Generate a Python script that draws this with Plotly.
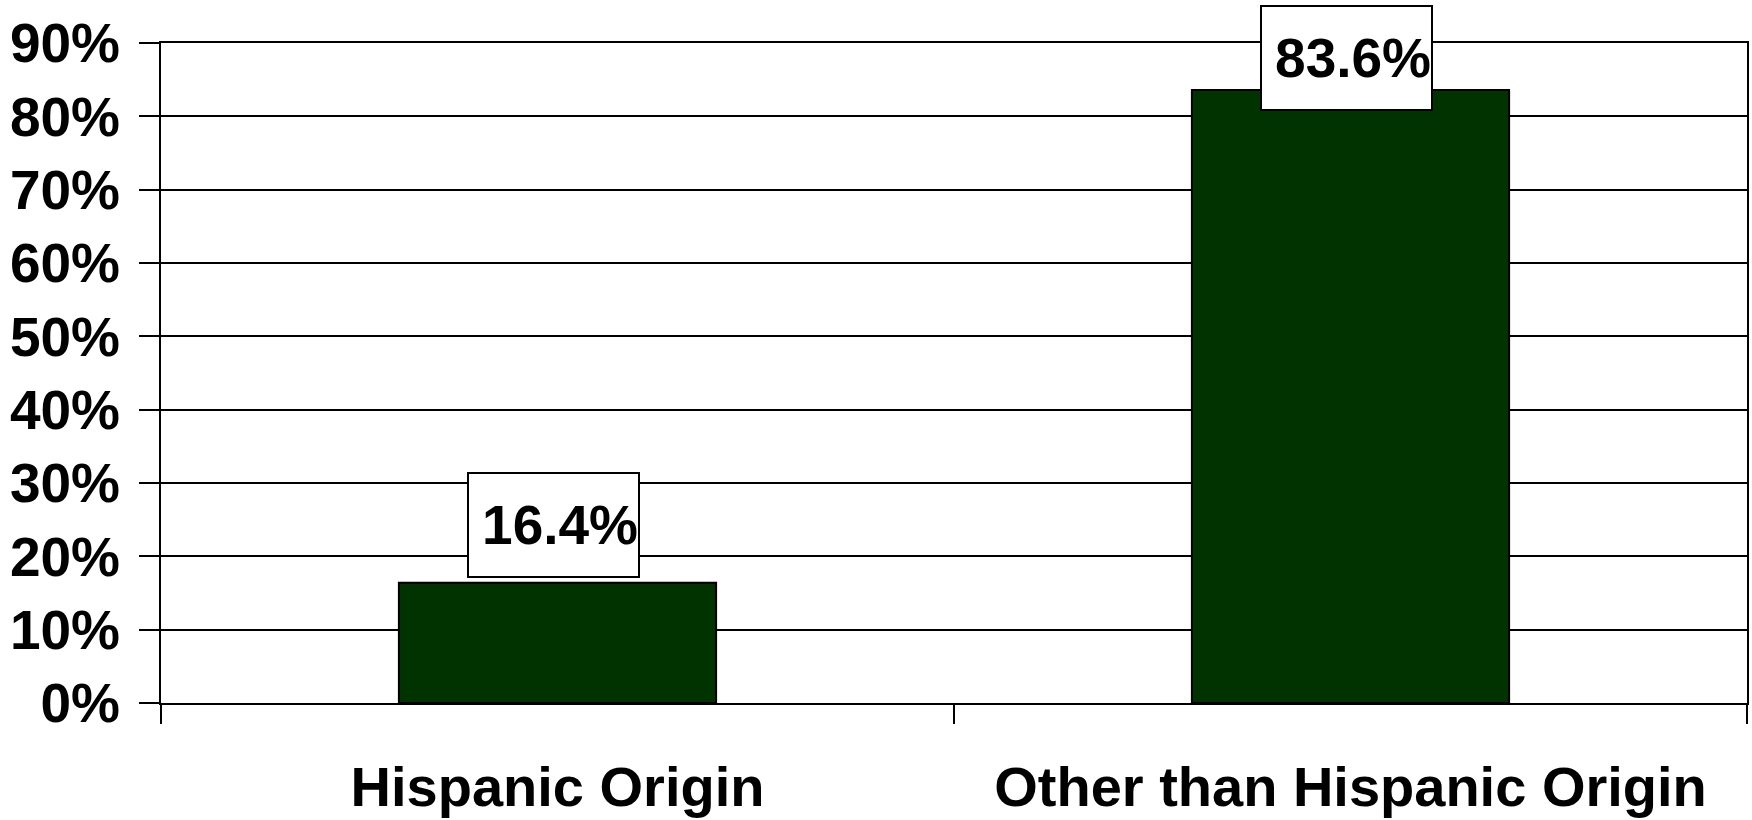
import plotly.graph_objects as go

# Share of population by origin (percent)
categories = ["Hispanic Origin", "Other than Hispanic Origin"]
shares = [16.4, 83.6]
value_labels = ["16.4%", "83.6%"]
y_ticks = [0, 10, 20, 30, 40, 50, 60, 70, 80, 90]

W, H = 1752, 820
M_L, M_R, M_T, M_B = 161, 5, 43, 117
Y_MAX = 90
FONT = "Arial, Liberation Sans, sans-serif"

fig = go.Figure(
    go.Bar(
        x=categories,
        y=shares,
        width=0.4,
        marker=dict(color="#003300", line=dict(color="#000000", width=2)),
        hoverinfo="skip",
    )
)

# Value boxes sit just above each bar, pushed down when they would leave the page
BOX_W, BOX_H, GAP, TOP_PAD = 173, 106, 5, 5
plot_h = H - M_T - M_B
for cat, val, txt in zip(categories, shares, value_labels):
    bar_top_px = M_T + (Y_MAX - val) / Y_MAX * plot_h
    box_bottom = max(bar_top_px - GAP, TOP_PAD + BOX_H)
    fig.add_annotation(
        x=cat, y=val, xref="x", yref="y",
        text=txt, showarrow=False,
        xanchor="center", yanchor="bottom",
        xshift=-4, yshift=bar_top_px - box_bottom,
        width=BOX_W - 4, height=BOX_H - 4,
        align="right", valign="middle",
        bgcolor="#ffffff", bordercolor="#000000", borderwidth=2, borderpad=0,
        font=dict(family=FONT, size=55, color="#000000", weight="bold"),
    )

fig.update_layout(
    width=W, height=H,
    margin=dict(l=M_L, r=M_R, t=M_T, b=M_B, pad=0, autoexpand=False),
    paper_bgcolor="#ffffff", plot_bgcolor="#ffffff",
    showlegend=False,
    bargap=0.6,
)
fig.update_xaxes(
    type="category",
    automargin=False,
    tickson="boundaries",
    ticks="outside", ticklen=19, tickwidth=2, tickcolor="#000000",
    showline=True, mirror=True, linecolor="#000000", linewidth=2,
    showgrid=False,
    tickfont=dict(family=FONT, size=56, color="#000000", weight="bold"),
    ticklabelstandoff=34,
)
fig.update_yaxes(
    range=[0, Y_MAX],
    automargin=False,
    tickvals=y_ticks,
    ticktext=[f"{t}%" for t in y_ticks],
    ticks="outside", ticklen=20, tickwidth=2, tickcolor="#000000",
    showline=True, mirror=True, linecolor="#000000", linewidth=2,
    showgrid=True, gridcolor="#000000", gridwidth=2,
    zeroline=False,
    tickfont=dict(family=FONT, size=55, color="#000000", weight="bold"),
    ticklabelstandoff=8,
)

fig.write_html("out.html")
